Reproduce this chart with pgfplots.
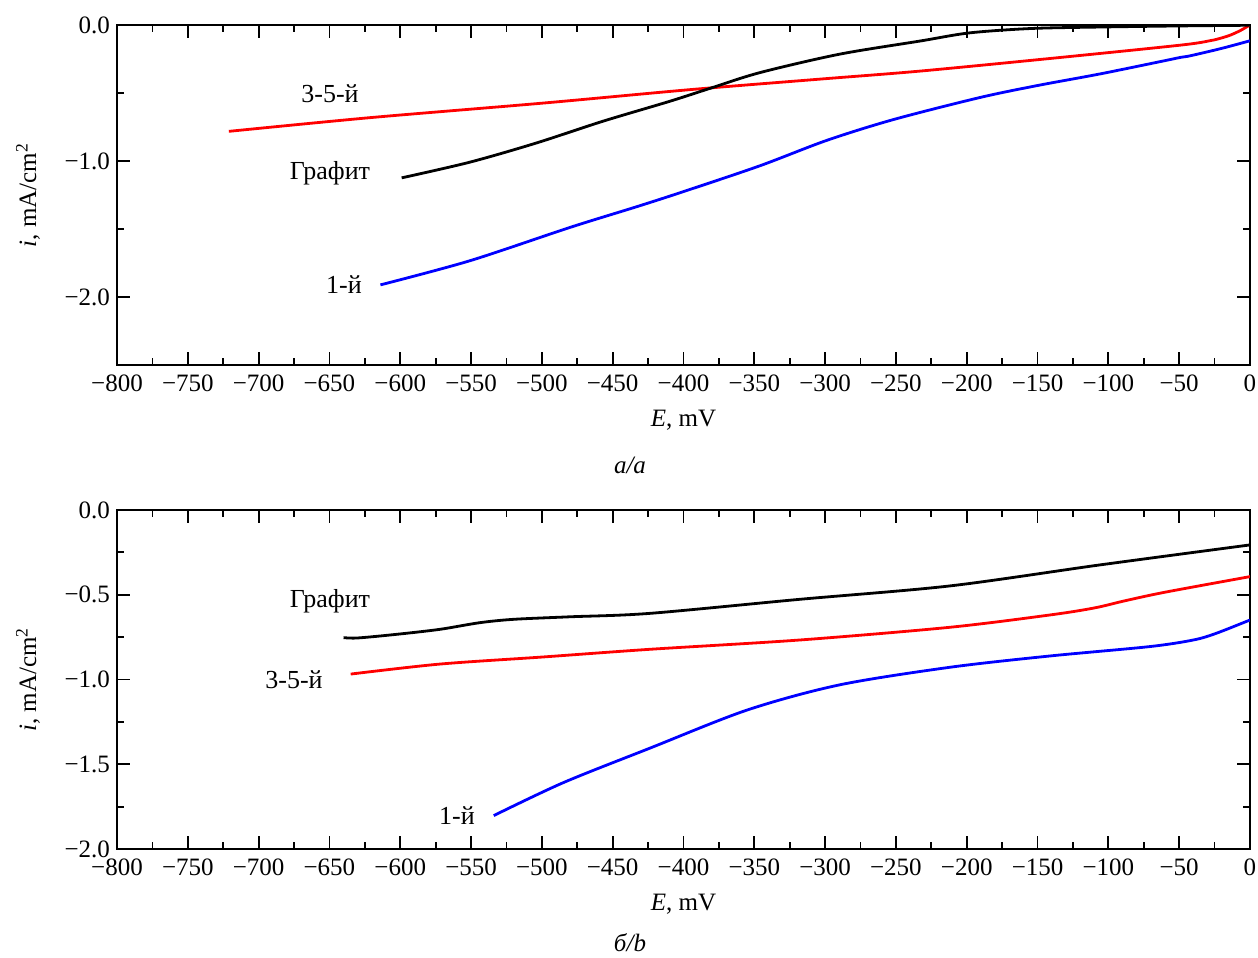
\documentclass[border=0pt]{standalone}
\usepackage{pgfplots}
\pgfplotsset{compat=1.18}
\usepackage{fontspec}
\setmainfont{Liberation Serif}

\pgfplotsset{
  polar/.style={
    scale only axis,
    width=566.5pt,
    xmin=-800, xmax=0,
    xtick={-800,-750,...,0},
    xticklabels={−800,−750,−700,−650,−600,−550,−500,−450,−400,−350,−300,−250,−200,−150,−100,−50,0},
    minor xtick={-775,-725,...,-25},
    tick align=inside,
    major tick length=6.5pt,
    minor tick length=3.5pt,
    every tick/.style={black, line width=0.9pt},
    axis line style={line width=1pt},
    ticklabel style={font=\fontsize{12.5}{14}\selectfont},
    xticklabel style={yshift=-1.5pt},
    label style={font=\fontsize{12.5}{14}\selectfont},
    xlabel={\textit{E}, mV},
    ylabel={\textit{i}, mA/cm\textsuperscript{2}},
    xlabel style={at={([yshift=-27.5pt]axis description cs:0.5,0)}, anchor=center},
    ylabel style={at={([xshift=-44.5pt]axis description cs:0,0.5)}, anchor=center},
    every axis plot/.append style={line width=1.4pt, smooth, no marks},
  }
}

\begin{document}
\begin{tikzpicture}
% ---- panel a
\begin{axis}[polar,
  at={(58.5pt,296.5pt)}, anchor=south west, height=170pt,
  ymin=-2.5, ymax=0,
  ytick={0,-1,-2}, yticklabels={0.0,−1.0,−2.0},
  minor ytick={-0.5,-1.5},
]
\addplot[red] coordinates {
  (-721,-0.782) (-621,-0.681) (-500,-0.575) (-395,-0.475) (-300,-0.395)
  (-233,-0.339) (-140,-0.245) (-49,-0.148) (-28,-0.115) (-21,-0.098)
  (-14,-0.075) (-7,-0.042) (-3,-0.018) (0,0)
};
\addplot[black] coordinates {
  (-599,-1.124) (-551,-1.009) (-504,-0.868) (-457,-0.708) (-410,-0.562)
  (-381,-0.465) (-346,-0.350) (-290,-0.215) (-233,-0.118) (-198,-0.058)
  (-155,-0.026) (-106,-0.015) (-50,-0.007) (0,-0.002)
};
\addplot[blue] coordinates {
  (-614,-1.911) (-551,-1.734) (-480,-1.488) (-433,-1.336) (-400,-1.225)
  (-346,-1.035) (-299,-0.849) (-252,-0.696) (-191,-0.534) (-150,-0.445)
  (-106,-0.360) (-60,-0.262) (-49,-0.238) (-42,-0.226) (-20,-0.172) (0,-0.116)
};
\node[font=\fontsize{13}{15}\selectfont] at (axis cs:-649.6,-0.509) {3-5-й};
\node[font=\fontsize{13}{15}\selectfont] at (axis cs:-649.6,-1.092) {Графит};
\node[font=\fontsize{13}{15}\selectfont] at (axis cs:-639.7,-1.911) {1-й};
\end{axis}
% ---- panel b
\begin{axis}[polar,
  at={(58.5pt,54.5pt)}, anchor=south west, height=169.5pt,
  ymin=-2, ymax=0,
  ytick={0,-0.5,-1,-1.5,-2}, yticklabels={0.0,−0.5,−1.0,−1.5,−2.0},
  minor ytick={-0.25,-0.75,-1.25,-1.75},
]
\addplot[black] coordinates {
  (-640,-0.753) (-630,-0.755) (-602,-0.733) (-572,-0.704) (-544,-0.665)
  (-520,-0.645) (-480,-0.630) (-424,-0.610) (-318,-0.527) (-212,-0.448)
  (-106,-0.324) (0,-0.206)
};
\addplot[red] coordinates {
  (-635,-0.968) (-572,-0.909) (-499,-0.867) (-424,-0.822) (-318,-0.767)
  (-212,-0.692) (-141,-0.619) (-110,-0.578) (-88,-0.535) (-60,-0.485) (0,-0.393)
};
\addplot[blue] coordinates {
  (-534,-1.803) (-485,-1.609) (-424,-1.406) (-355,-1.180) (-290,-1.032)
  (-212,-0.928) (-141,-0.861) (-71,-0.806) (-40,-0.767) (-24,-0.728) (0,-0.649)
};
\node[font=\fontsize{13}{15}\selectfont] at (axis cs:-649.6,-0.537) {Графит};
\node[font=\fontsize{13}{15}\selectfont] at (axis cs:-675,-1.003) {3-5-й};
\node[font=\fontsize{13}{15}\selectfont] at (axis cs:-560,-1.805) {1-й};
\end{axis}
\node[font=\fontsize{12.5}{14}\selectfont\itshape] at (315pt,246.5pt) {а/a};
\node[font=\fontsize{12.5}{14}\selectfont\itshape] at (315pt,7.5pt) {б/b};
\pgfresetboundingbox
\path (0,0) rectangle (629pt,479pt);
\end{tikzpicture}
\end{document}
